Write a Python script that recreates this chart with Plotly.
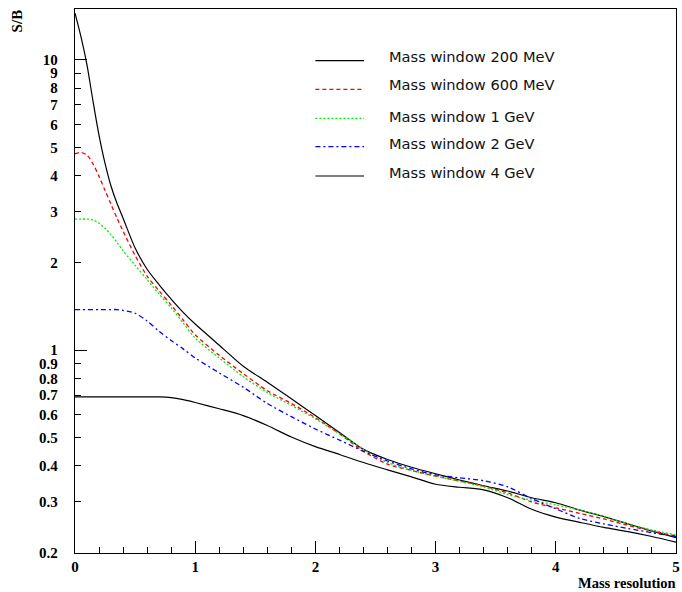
import plotly.graph_objects as go
import math

# ---------------- data ----------------
mass_resolution = [0, 0.05, 0.1, 0.15, 0.2, 0.25, 0.3, 0.35, 0.4, 0.5, 0.6, 0.7, 0.8, 0.9,
                   1.0, 1.2, 1.4, 1.6, 1.8, 2.0, 2.2, 2.4, 2.6, 2.8, 3.0, 3.2, 3.4, 3.6,
                   3.8, 4.0, 4.2, 4.4, 4.6, 4.8, 5.0]

sb_200mev = [14.5, 12.0, 9.6, 7.2, 5.5, 4.4, 3.67, 3.2, 2.85, 2.25, 1.9, 1.68, 1.5, 1.35,
             1.23, 1.04, 0.88, 0.775, 0.68, 0.595, 0.52, 0.455, 0.42, 0.395, 0.375, 0.357,
             0.341, 0.327, 0.31, 0.298, 0.281, 0.267, 0.252, 0.238, 0.226]

sb_600mev = [4.75, 4.8, 4.7, 4.38, 3.97, 3.55, 3.18, 2.85, 2.57, 2.12, 1.8, 1.6, 1.43, 1.27,
             1.13, 0.96, 0.83, 0.725, 0.655, 0.585, 0.515, 0.448, 0.405, 0.385, 0.368,
             0.354, 0.34, 0.322, 0.3, 0.286, 0.274, 0.262, 0.249, 0.238, 0.229]

sb_1gev = [2.83, 2.83, 2.83, 2.81, 2.74, 2.63, 2.5, 2.35, 2.2, 1.96, 1.75, 1.56, 1.4, 1.24,
           1.10, 0.94, 0.81, 0.715, 0.645, 0.58, 0.515, 0.455, 0.41, 0.385, 0.368, 0.353,
           0.338, 0.318, 0.304, 0.293, 0.281, 0.267, 0.252, 0.24, 0.231]

sb_2gev = [1.38, 1.38, 1.38, 1.38, 1.38, 1.38, 1.38, 1.38, 1.37, 1.34, 1.26, 1.16, 1.08, 1.01,
           0.94, 0.835, 0.745, 0.655, 0.59, 0.535, 0.49, 0.448, 0.415, 0.39, 0.372, 0.363,
           0.355, 0.338, 0.308, 0.284, 0.263, 0.252, 0.243, 0.235, 0.228]

sb_4gev = [0.69, 0.69, 0.69, 0.69, 0.69, 0.69, 0.69, 0.69, 0.69, 0.69, 0.69, 0.69, 0.686, 0.675,
           0.66, 0.628, 0.595, 0.55, 0.502, 0.465, 0.437, 0.41, 0.387, 0.366, 0.345, 0.337,
           0.33, 0.31, 0.283, 0.266, 0.255, 0.245, 0.237, 0.228, 0.218]

series_names = ["Mass window 200 MeV", "Mass window 600 MeV", "Mass window 1 GeV",
                "Mass window 2 GeV", "Mass window 4 GeV"]

y_tick_values = [0.2, 0.3, 0.4, 0.5, 0.6, 0.7, 0.8, 0.9, 1, 2, 3, 4, 5, 6, 7, 8, 9, 10]
y_tick_labels = ["0.2", "0.3", "0.4", "0.5", "0.6", "0.7", "0.8", "0.9", "1",
                 "2", "3", "4", "5", "6", "7", "8", "9", "10"]
y_major_ticks = [1, 10]
x_tick_values = [0, 1, 2, 3, 4, 5]

# ---------------- styles ----------------
series = [sb_200mev, sb_600mev, sb_1gev, sb_2gev, sb_4gev]
colors = ["#000000", "#ff0000", "#00ee00", "#0000ff", "#000000"]
dashes = ["solid", "4px,3px", "2px,2px", "5px,3px,2px,3px", "solid"]
widths = [1.2, 1.3, 1.3, 1.3, 1.2]

W, H = 682, 592
L, R, T, B = 75, 680, 9, 553

fig = go.Figure()
for vals, name, c, d, w in zip(series, series_names, colors, dashes, widths):
    fig.add_trace(go.Scatter(x=mass_resolution, y=vals, mode="lines", name=name,
                             line=dict(color=c, dash=d, width=w, shape="spline", smoothing=0.8),
                             showlegend=False))

# invisible trace to activate the overlay axis for long major ticks
fig.add_trace(go.Scatter(x=[0], y=[1], yaxis="y2", mode="lines", showlegend=False,
                         line=dict(width=0), hoverinfo="skip"))

tickfont = dict(family="Liberation Serif", size=15, color="black", weight="bold")

def px2paper_x(px):
    return (px - L) / (R - L)

def px2paper_y(py):
    return (B - py) / (B - T)

# manual legend (pixel positions)
legend_line_y = [60.7, 89.3, 118.3, 146.7, 176.0]
legend_text_y = [56.0, 84.5, 116.5, 143.5, 172.0]
shapes = []
annotations = []
for name, c, d, w, ly, ty in zip(series_names, colors, dashes, widths, legend_line_y, legend_text_y):
    shapes.append(dict(type="line", xref="paper", yref="paper",
                       x0=px2paper_x(317), x1=px2paper_x(366),
                       y0=px2paper_y(ly), y1=px2paper_y(ly),
                       line=dict(color=c, dash=d, width=w)))
    annotations.append(dict(xref="paper", yref="paper", x=px2paper_x(389), y=px2paper_y(ty),
                            xanchor="left", yanchor="middle", showarrow=False, text=name,
                            font=dict(family="DejaVu Sans", size=14.6, color="#111111")))

annotations.append(dict(xref="paper", yref="paper", x=px2paper_x(17), y=px2paper_y(21),
                        xanchor="center", yanchor="middle", showarrow=False, text="S/B",
                        textangle=-90, font=tickfont))
annotations.append(dict(xref="paper", yref="paper", x=px2paper_x(681), y=px2paper_y(583),
                        xanchor="right", yanchor="middle", showarrow=False, borderpad=0,
                        text="Mass resolution", font=dict(family="Liberation Serif", size=14.5,
                                                          color="black", weight="bold")))

yrange = [math.log10(0.2), math.log10(14.98)]

fig.update_layout(
    width=W, height=H,
    margin=dict(l=L, r=W - R, t=T, b=H - B, pad=0),
    paper_bgcolor="white", plot_bgcolor="white",
    shapes=shapes, annotations=annotations,
    xaxis=dict(range=[0, 5], tickvals=x_tick_values, ticktext=[str(v) for v in x_tick_values],
               ticks="inside", ticklen=12, tickwidth=1.2, tickcolor="black",
               minor=dict(dtick=0.2, ticks="inside", ticklen=6, tickwidth=1, tickcolor="black"),
               showline=True, linecolor="black", linewidth=1.3, mirror=True,
               showgrid=False, zeroline=False, tickfont=tickfont, ticklabelstandoff=0,
               ticklabeloverflow="allow"),
    yaxis=dict(type="log", range=yrange, tickvals=y_tick_values, ticktext=y_tick_labels,
               ticks="inside", ticklen=6, tickwidth=1, tickcolor="black",
               showline=True, linecolor="black", linewidth=1.3, mirror=True,
               showgrid=False, zeroline=False, tickfont=tickfont, ticklabelstandoff=13),
    yaxis2=dict(type="log", range=yrange, overlaying="y", side="left",
                tickvals=y_major_ticks, showticklabels=False,
                ticks="inside", ticklen=12, tickwidth=1.2, tickcolor="black",
                showline=False, showgrid=False, zeroline=False),
)

# remove the default 8px page margin so the figure fills the window exactly
fig.write_html("out.html", config={"displayModeBar": False},
               post_script="document.documentElement.style.overflow='hidden';"
                           "document.body.style.margin='0px';document.body.style.overflow='hidden';")
